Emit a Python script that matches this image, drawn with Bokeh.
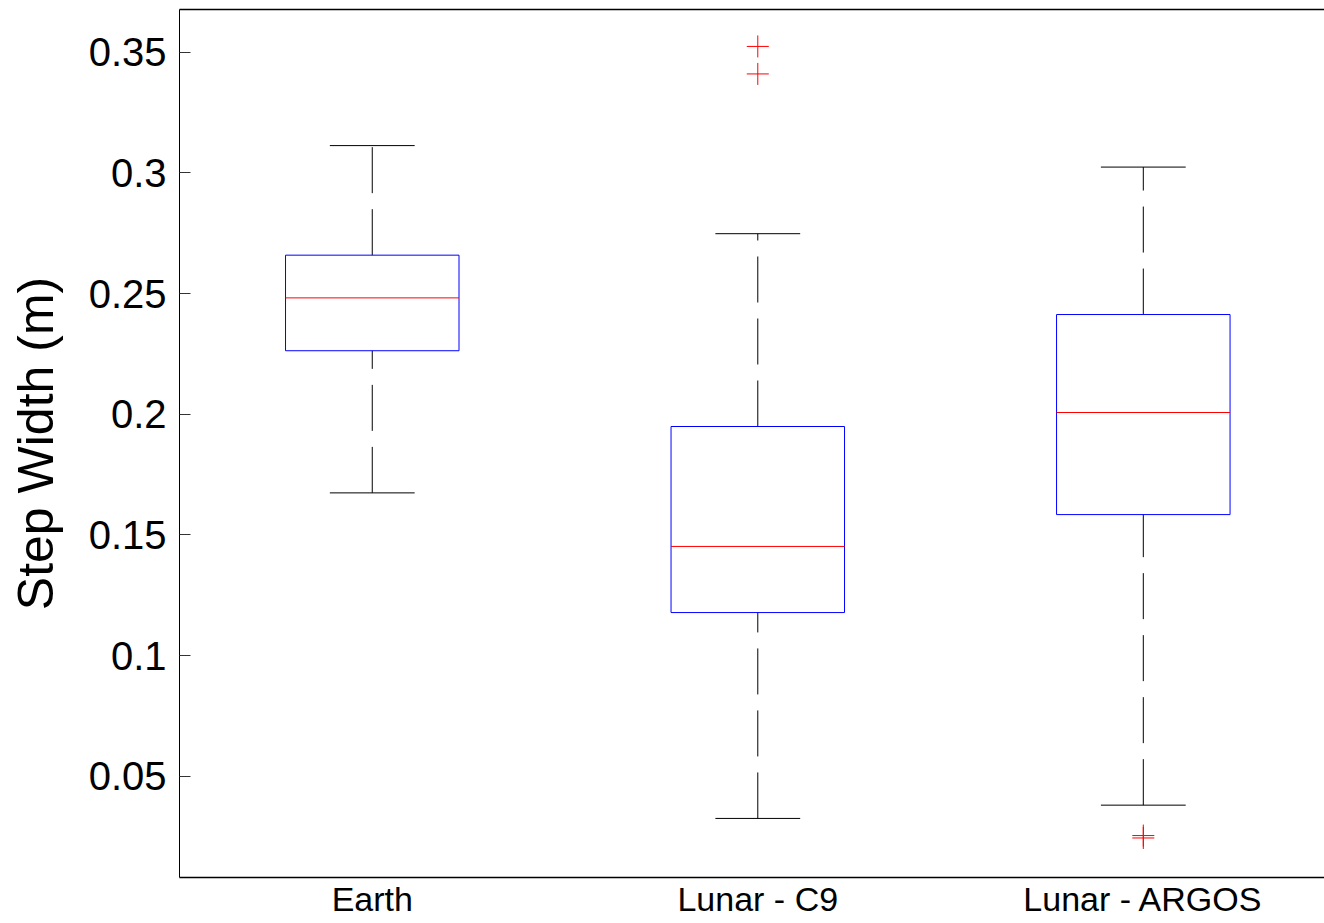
from bokeh.plotting import figure
from bokeh.models import Range1d, FixedTicker, LinearAxis
from bokeh.embed import file_html
from bokeh.resources import INLINE

categories = ["Earth", "Lunar - C9", "Lunar - ARGOS"]
positions = [1, 2, 3]
whisker_low = [0.1674, 0.0325, 0.0380]
q1 = [0.2263, 0.1178, 0.1584]
median = [0.2482, 0.1452, 0.2007]
q3 = [0.2659, 0.1949, 0.2413]
whisker_high = [0.3113, 0.2748, 0.3024]
outlier_group = [2, 2, 3, 3]
outlier_value = [0.3524, 0.3410, 0.0254, 0.0244]

y_ticks = [0.05, 0.1, 0.15, 0.2, 0.25, 0.3, 0.35]
y_tick_labels = ["0.05", "0.1", "0.15", "0.2", "0.25", "0.3", "0.35"]

box_half = 0.225
cap_half = 0.11
FONT = "Liberation Sans"

p = figure(width=1324, height=923, output_backend="svg", toolbar_location=None,
           x_range=Range1d(0.5, 3.47), y_range=Range1d(0.00802, 0.3677),
           min_border_left=179, min_border_top=9, min_border_right=0, min_border_bottom=46)
p.grid.visible = False
p.outline_line_color = None
p.background_fill_color = "white"
p.border_fill_color = "white"

# whiskers (drawn from lower to upper end, dashed)
p.segment(x0=positions, y0=q3, x1=positions, y1=whisker_high,
          line_color="black", line_width=1, line_dash="46 16")
p.segment(x0=positions, y0=whisker_low, x1=positions, y1=q1,
          line_color="black", line_width=1, line_dash="46 16")
# caps
p.segment(x0=[x - cap_half for x in positions], y0=whisker_high,
          x1=[x + cap_half for x in positions], y1=whisker_high,
          line_color="black", line_width=1)
p.segment(x0=[x - cap_half for x in positions], y0=whisker_low,
          x1=[x + cap_half for x in positions], y1=whisker_low,
          line_color="black", line_width=1)
# boxes
p.quad(left=[x - box_half for x in positions], right=[x + box_half for x in positions],
       bottom=q1, top=q3, fill_alpha=0, line_color="#0000FF", line_width=1)
# medians
p.segment(x0=[x - box_half for x in positions], y0=median,
          x1=[x + box_half for x in positions], y1=median,
          line_color="#FF0000", line_width=1)
# outliers
p.scatter(x=outlier_group, y=outlier_value, marker="cross", size=22,
          line_color="#FF0000", line_width=1)

# x axis
xa = p.xaxis[0]
xa.ticker = FixedTicker(ticks=positions)
xa.major_label_overrides = {x: c for x, c in zip(positions, categories)}
xa.major_label_text_font = FONT
xa.major_label_text_font_size = "34px"
xa.major_label_text_color = "black"
xa.major_tick_line_color = None
xa.major_tick_in = 0
xa.major_tick_out = 0
xa.minor_tick_line_color = None
xa.minor_tick_in = 0
xa.minor_tick_out = 0
xa.major_label_standoff = 2
xa.axis_line_color = "black"
xa.axis_line_width = 1.5

# y axis
ya = p.yaxis[0]
ya.ticker = FixedTicker(ticks=y_ticks)
ya.major_label_overrides = {t: l for t, l in zip(y_ticks, y_tick_labels)}
ya.major_label_text_font = FONT
ya.major_label_text_font_size = "40px"
ya.major_label_text_color = "black"
ya.major_tick_in = 11
ya.major_tick_out = 0
ya.major_tick_line_color = "#333333"
ya.minor_tick_line_color = None
ya.major_label_standoff = 13
ya.axis_line_color = "black"
ya.axis_line_width = 1
ya.axis_label = "Step Width (m)"
ya.axis_label_text_font = FONT
ya.axis_label_text_font_size = "50px"
ya.axis_label_text_font_style = "normal"
ya.axis_label_text_color = "black"
ya.axis_label_standoff = 22

# top border
top = LinearAxis(ticker=FixedTicker(ticks=[]), major_tick_out=0, major_tick_in=0,
                 major_label_text_font_size="0px", major_label_standoff=0,
                 axis_line_color="black", axis_line_width=1.5,
                 minor_tick_line_color=None)
p.add_layout(top, "above")

open("out.html", "w").write(file_html(p, INLINE))
